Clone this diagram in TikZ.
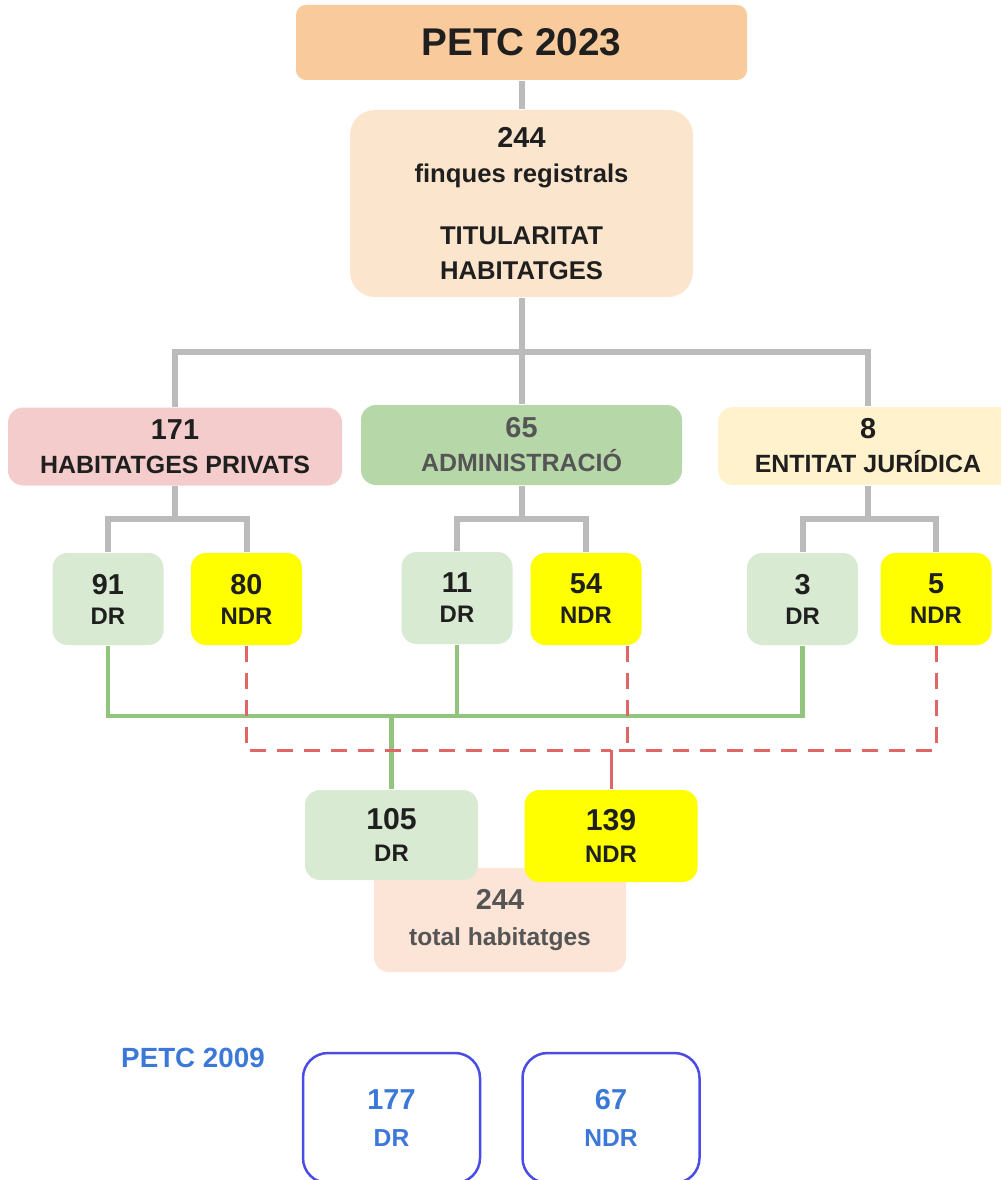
\documentclass[tikz,border=0pt]{standalone}
\usepackage{fontspec}
\setmainfont{Liberation Sans}
\usetikzlibrary{positioning}

\definecolor{petcorange}{HTML}{F9CB9C}
\definecolor{lightpeach}{HTML}{FCE5CD}
\definecolor{totalpeach}{HTML}{FCE5D6}
\definecolor{pinkfill}{HTML}{F4CCCC}
\definecolor{adminfill}{HTML}{B6D7A8}
\definecolor{entfill}{HTML}{FFF2CC}
\definecolor{drgreen}{HTML}{D9EAD3}
\definecolor{ndryellow}{HTML}{FFFF00}
\definecolor{linegray}{HTML}{BBBBBB}
\definecolor{linegreen}{HTML}{93C47D}
\definecolor{linered}{HTML}{E06666}
\definecolor{darktext}{HTML}{1F1F1F}
\definecolor{graytext}{HTML}{555555}
\definecolor{bluetext}{HTML}{3C78D8}
\definecolor{blueborder}{HTML}{4B4BE6}

\newcommand{\bignum}[1]{{\fontsize{8.2}{9}\selectfont #1}}

\tikzset{
  card/.style={rounded corners=1.5mm, align=center, inner sep=0pt, text=darktext},
  catbox/.style={card, minimum height=7.8mm, font=\bfseries\fontsize{7.1}{9.7}\selectfont},
  drbox/.style={card, fill=drgreen, minimum width=11.1mm, minimum height=9.2mm, font=\bfseries\fontsize{6.8}{8.5}\selectfont},
  ndrbox/.style={drbox, fill=ndryellow},
  sumbox/.style={card, minimum width=17.3mm, minimum height=9mm, font=\bfseries\fontsize{6.8}{9.1}\selectfont},
  oldbox/.style={card, draw=blueborder, line width=0.25mm, rounded corners=2.5mm, text=bluetext, minimum width=17.7mm, minimum height=13mm, font=\bfseries\fontsize{7}{10.5}\selectfont},
  grayline/.style={draw=linegray, line width=0.6mm},
  greenline/.style={draw=linegreen, line width=0.45mm},
  redline/.style={draw=linered, line width=0.3mm},
  reddash/.style={redline, dash pattern=on 1.6mm off 1.1mm}
}

\begin{document}
\begin{tikzpicture}[x=0.1mm,y=-0.1mm]
  \useasboundingbox (0,0) rectangle (1000,1180);

  % PETC 2023
  \node[card, fill=petcorange, minimum width=45.1mm, minimum height=7.5mm, rounded corners=1mm, font=\bfseries\fontsize{11}{13}\selectfont] (petc) at (521.5,42.5) {PETC 2023};
  \node[card, fill=lightpeach, minimum width=34.3mm, minimum height=18.7mm, rounded corners=2.5mm, font=\bfseries\fontsize{7.3}{9.8}\selectfont] (finques) at (521.5,203.5)
    {\bignum{244}\\finques registrals\\[8pt]TITULARITAT\\HABITATGES};

  % titularitat
  \node[catbox, fill=pinkfill, minimum width=33.4mm] (privats) at (175,446.5) {\bignum{171}\\HABITATGES PRIVATS};
  \node[catbox, fill=adminfill, text=graytext, minimum width=32.1mm, minimum height=8mm] (admin) at (521.5,445) {\bignum{65}\\ADMINISTRACIÓ};
  \node[catbox, fill=entfill, minimum width=30mm] (entitat) at (868,446) {\bignum{8}\\ENTITAT JURÍDICA};

  \node[drbox] (dr1) at (108,599) {\bignum{91}\\DR};
  \node[ndrbox] (ndr1) at (246.5,599) {\bignum{80}\\NDR};
  \node[drbox] (dr2) at (457,598) {\bignum{11}\\DR};
  \node[ndrbox] (ndr2) at (586,599) {\bignum{54}\\NDR};
  \node[drbox] (dr3) at (802.5,599) {\bignum{3}\\DR};
  \node[ndrbox] (ndr3) at (936,599) {\bignum{5}\\NDR};

  % totals
  \node[card, fill=totalpeach, text=graytext, minimum width=25.2mm, minimum height=10.4mm, font=\bfseries\fontsize{7}{10}\selectfont] (total) at (500,920) {\bignum{244}\\total habitatges};
  \node[sumbox, fill=drgreen] (sumdr) at (391.5,835) {{\fontsize{8.6}{9}\selectfont 105}\\DR};
  \node[sumbox, fill=ndryellow, minimum height=9.2mm] (sumndr) at (611,836) {{\fontsize{8.6}{9}\selectfont 139}\\NDR};

  % PETC 2009
  \node[text=bluetext, font=\bfseries\fontsize{7.9}{9}\selectfont] (petcold) at (193,1058) {PETC 2009};
  \node[oldbox] (olddr) at (391.5,1118) {\bignum{177}\\DR};
  \node[oldbox] (oldndr) at (611,1118) {\bignum{67}\\NDR};

  % connectors
  \coordinate (bar) at (521.5,352);
  \draw[grayline] (petc) -- (finques);
  \draw[grayline] (finques) -- (admin);
  \draw[grayline] (privats.north) |- (bar) -| (entitat.north);

  \draw[grayline] (privats.south) -- ++(0,33) coordinate (pj);
  \draw[grayline] (dr1.north) |- (pj) -| (ndr1.north);
  \draw[grayline] (admin.south) -- ++(0,33) coordinate (aj);
  \draw[grayline] (dr2.north) |- (aj) -| (ndr2.north);
  \draw[grayline] (entitat.south) -- ++(0,33) coordinate (ej);
  \draw[grayline] (dr3.north) |- (ej) -| (ndr3.north);

  \coordinate (gj) at (391.5,716);
  \draw[greenline] (dr1.south) |- (gj);
  \draw[greenline] (dr3.south) |- (gj);
  \draw[greenline] (dr2.south) -- (dr2.south |- gj);
  \draw[greenline] (gj) -- (sumdr.north);

  \coordinate (rj) at (611,750);
  \draw[reddash] (ndr1.south) |- (rj);
  \draw[reddash] (ndr3.south) |- (rj);
  \draw[reddash] ([xshift=4.1mm]ndr2.south) -- ([xshift=4.1mm]ndr2.south |- rj);
  \draw[redline] (rj) -- (sumndr.north);
\end{tikzpicture}
\end{document}
